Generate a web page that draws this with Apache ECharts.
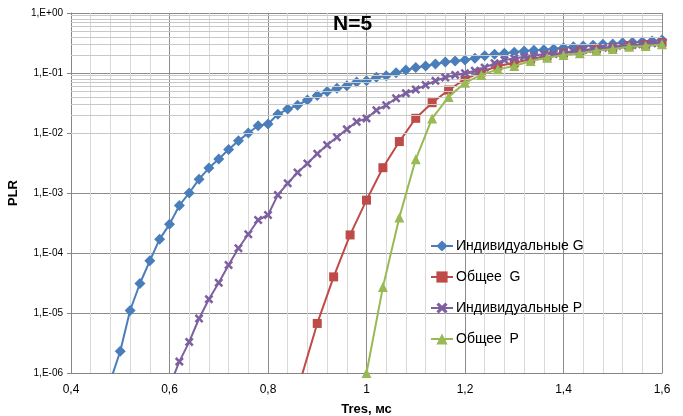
<!DOCTYPE html>
<html>
<head>
<meta charset="utf-8">
<script src="https://cdn.jsdelivr.net/npm/echarts@6/dist/echarts.min.js"></script>
<style>
  html, body { margin: 0; padding: 0; background: #fff; }
  #chart { width: 683px; height: 416px; }
</style>
</head>
<body>
<div id="chart"></div>
<script>
// step 0.02 grid (individual curves)
const xFine = [0.48, 0.50, 0.52, 0.54, 0.56, 0.58, 0.60, 0.62, 0.64, 0.66, 0.68, 0.70, 0.72, 0.74, 0.76, 0.78,
    0.80, 0.82, 0.84, 0.86, 0.88, 0.90, 0.92, 0.94, 0.96, 0.98, 1.00, 1.02, 1.04, 1.06, 1.08, 1.10, 1.12, 1.14,
    1.16, 1.18, 1.20, 1.22, 1.24, 1.26, 1.28, 1.30, 1.32, 1.34, 1.36, 1.38, 1.40, 1.42, 1.44, 1.46, 1.48, 1.50,
    1.52, 1.54, 1.56, 1.58, 1.60];
const indivG = [7.4e-7, 2.3e-6, 1.1e-5, 3.1e-5, 7.4e-5, 1.7e-4, 3.0e-4, 6.2e-4, 1.0e-3, 1.7e-3, 2.6e-3, 3.7e-3,
    5.3e-3, 7.4e-3, 1.0e-2, 1.32e-2, 1.41e-2, 2.05e-2, 2.5e-2, 2.9e-2, 3.55e-2, 4.2e-2, 4.9e-2, 5.55e-2, 6.15e-2,
    7.1e-2, 7.4e-2, 8.5e-2, 9.0e-2, 0.101, 0.112, 0.123, 0.131, 0.141, 0.152, 0.158, 0.165, 0.176, 0.194, 0.205,
    0.213, 0.221, 0.233, 0.239, 0.245, 0.251, 0.264, 0.275, 0.282, 0.289, 0.301, 0.305, 0.32, 0.325, 0.333,
    0.342, 0.355];
// starts at 0.60
const indivP = [6e-7, 1.55e-6, 3.3e-6, 8.1e-6, 1.7e-5, 3.2e-5, 6.3e-5, 1.2e-4, 2.05e-4, 3.55e-4, 4.3e-4, 9.3e-4,
    1.45e-3, 2.2e-3, 3.1e-3, 4.5e-3, 6.3e-3, 8.5e-3, 1.15e-2, 1.54e-2, 1.75e-2, 2.4e-2, 2.9e-2, 3.8e-2, 4.6e-2,
    5.3e-2, 6.3e-2, 7.4e-2, 8.4e-2, 9.3e-2, 0.099, 0.109, 0.123, 0.145, 0.165, 0.175, 0.187, 0.194, 0.207, 0.207,
    0.218, 0.233, 0.242, 0.251, 0.264, 0.275, 0.285, 0.293, 0.301, 0.312, 0.32];

// step 1/30 grid (common curves)
const xCoarse = [0.8667, 0.9, 0.9333, 0.9667, 1.0, 1.0333, 1.0667, 1.1, 1.1333, 1.1667, 1.2, 1.2333, 1.2667,
    1.3, 1.3333, 1.3667, 1.4, 1.4333, 1.4667, 1.5, 1.5333, 1.5667, 1.6];
const commonG = [8e-7, 6.7e-6, 4.0e-5, 2.0e-4, 7.6e-4, 2.64e-3, 7.2e-3, 1.76e-2, 3.2e-2, 5.2e-2, 0.079, 0.104,
    0.131, 0.147, 0.171, 0.192, 0.215, 0.233, 0.251, 0.266, 0.287, 0.299, 0.32];
// starts at 1.0
const commonP = [1.0e-6, 2.7e-5, 3.9e-4, 3.65e-3, 1.75e-2, 4.0e-2, 0.069, 0.093, 0.115, 0.131, 0.158, 0.180,
    0.2, 0.213, 0.235, 0.251, 0.275, 0.282, 0.30];

const names = ['Индивидуальные G', 'Общее  G', 'Индивидуальные P', 'Общее  P'];
const colors = ['#4a7ebb', '#be4b48', '#7d60a0', '#98b954'];

const pairs = (xs, ys, from) => ys.map((y, i) => [xs[from + i], y]);

// log minor gridlines 2..9 in each decade
const minorLines = [];
for (let e = -6; e < 0; e++) {
    for (let k = 2; k <= 9; k++) minorLines.push({ yAxis: k * Math.pow(10, e) });
}

const crossSymbol = 'path://M0,2 L2,0 L5,3 L8,0 L10,2 L7,5 L10,8 L8,10 L5,7 L2,10 L0,8 L3,5 Z';
const font = '"Liberation Sans", Arial, sans-serif';

const mk = (idx, data, symbol, size) => ({
    name: names[idx],
    type: 'line',
    data: data,
    symbol: symbol,
    symbolSize: size,
    clip: true,
    z: 3 + idx,
    itemStyle: { color: colors[idx] },
    lineStyle: { color: colors[idx], width: 2 }
});

const chart = echarts.init(document.getElementById('chart'));
const option = {
    animation: false,
    textStyle: { fontFamily: font },
    title: {
        text: 'N=5',
        left: 328,
        top: 9,
        textStyle: { fontFamily: font, fontSize: 21, fontWeight: 'bold', color: '#000' }
    },
    grid: { left: 71, right: 21, top: 13, bottom: 43, outerBoundsMode: 'none' },
    legend: {
        orient: 'vertical',
        left: 430,
        top: 239,
        padding: 0,
        itemWidth: 22,
        itemHeight: 14,
        itemGap: 17,
        data: names,
        textStyle: { fontFamily: font, fontSize: 14, color: '#000', padding: [0, 0, 0, -2] }
    },
    xAxis: {
        type: 'value',
        min: 0.4,
        max: 1.6,
        interval: 0.2,
        name: 'Tres, мс',
        nameLocation: 'middle',
        nameGap: 30,
        nameTextStyle: { fontFamily: font, fontSize: 13, fontWeight: 'bold', color: '#000' },
        axisLine: { lineStyle: { color: '#868686' } },
        axisTick: { show: false },
        axisLabel: {
            fontSize: 12, color: '#000', margin: 11,
            formatter: v => String(+v.toFixed(1)).replace('.', ',')
        },
        splitLine: { show: true, lineStyle: { color: '#8c8c8c' } },
        minorTick: { show: false, splitNumber: 5 },
        minorSplitLine: { show: true, lineStyle: { color: '#d9d9d9' } }
    },
    yAxis: {
        type: 'log',
        min: 1e-6,
        max: 1,
        name: 'PLR',
        nameLocation: 'middle',
        nameGap: 49,
        nameTextStyle: { fontFamily: font, fontSize: 13, fontWeight: 'bold', color: '#000' },
        axisLine: { show: true, lineStyle: { color: '#868686' } },
        axisTick: { show: true, length: 4, lineStyle: { color: '#868686' } },
        axisLabel: {
            fontSize: 10, color: '#000', margin: 8,
            formatter: v => {
                const e = Math.round(Math.log10(v));
                return '1,E' + (e < 0 ? '-' : '+') + String(Math.abs(e)).padStart(2, '0');
            }
        },
        splitLine: { show: true, lineStyle: { color: '#8c8c8c' } }
    },
    series: [
        {
            name: 'grid',
            type: 'line',
            data: [],
            silent: true,
            z: 1,
            markLine: {
                silent: true,
                symbol: ['none', 'none'],
                label: { show: false },
                lineStyle: { type: 'solid', color: '#c8c8c8', width: 1 },
                data: minorLines
            }
        },
        mk(0, pairs(xFine, indivG, 0), 'diamond', 11),
        mk(1, pairs(xCoarse, commonG, 0), 'rect', 9),
        mk(2, pairs(xFine, indivP, 6), crossSymbol, 9),
        mk(3, pairs(xCoarse, commonP, 4), 'triangle', 10)
    ]
};
chart.setOption(option);
</script>
</body>
</html>
